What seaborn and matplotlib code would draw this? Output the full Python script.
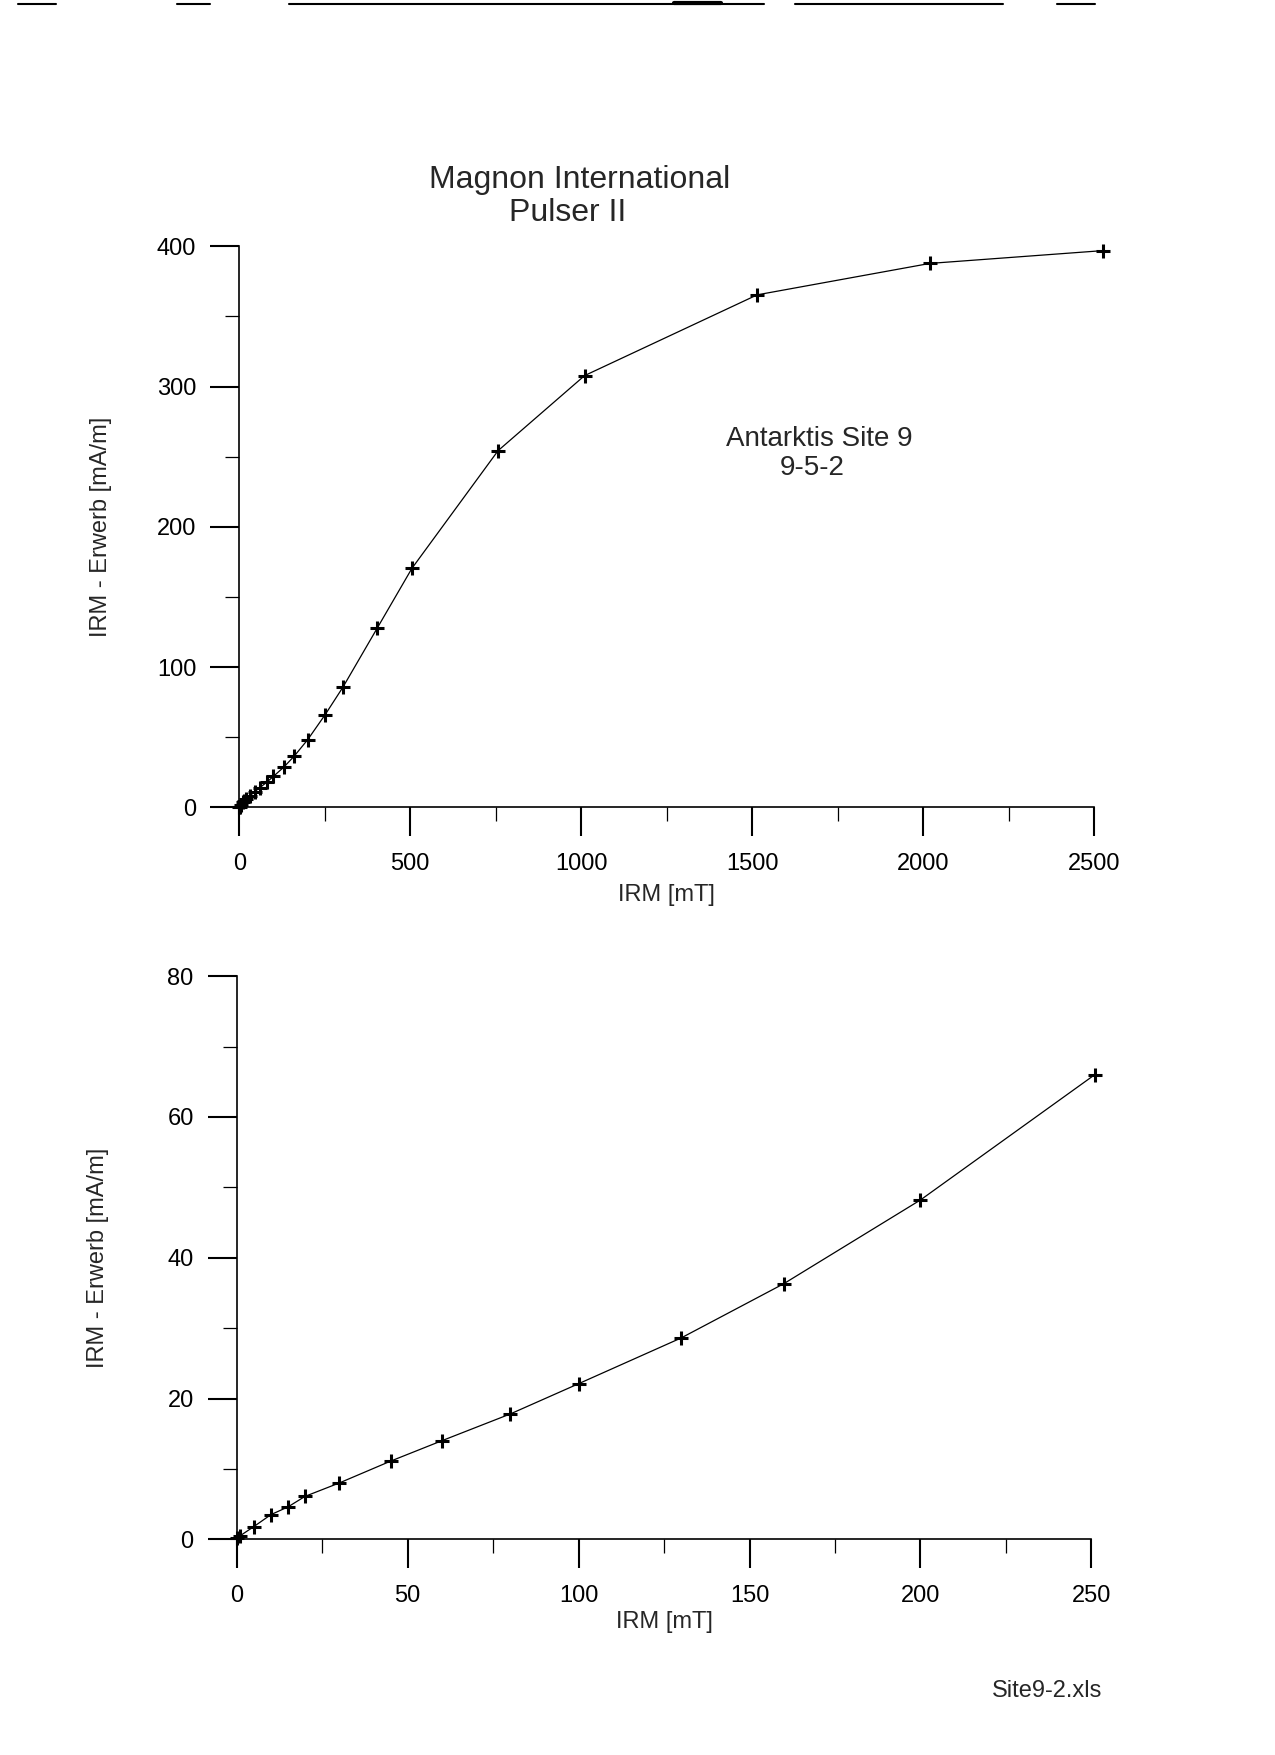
import seaborn as sns
import matplotlib.pyplot as plt
from matplotlib.ticker import MultipleLocator
from matplotlib.lines import Line2D

# IRM acquisition, Antarktis Site 9, sample 9-5-2
field_mT = [0, 1, 5, 10, 15, 20, 30, 45, 60, 80, 100, 130, 160, 200, 251,
            303, 404, 505, 757, 1010, 1515, 2020, 2525]
irm_mAm = [0.2, 0.5, 1.8, 3.5, 4.6, 6.1, 8.0, 11.1, 14.0, 17.8, 22.1, 28.6, 36.3, 48.2, 66.0,
           85.6, 128.0, 170.4, 254.3, 307.8, 365.4, 387.8, 396.9]

low_field = [f for f in field_mT if f <= 260]
low_irm = irm_mAm[:len(low_field)]

sns.set_style("ticks")
plt.rcParams['font.family'] = ['Liberation Sans', 'DejaVu Sans']

W, H = 1275, 1755


def box(x0, x1, y_top, y_bot):
    return [x0 / W, 1 - y_bot / H, (x1 - x0) / W, (y_bot - y_top) / H]


def style_axes(ax, xmax, ymax, xmaj, xmin, ymaj, ymin, xlab_y):
    ax.set_xlim(0, xmax)
    ax.set_ylim(0, ymax)
    ax.xaxis.set_major_locator(MultipleLocator(xmaj))
    ax.xaxis.set_minor_locator(MultipleLocator(xmin))
    ax.yaxis.set_major_locator(MultipleLocator(ymaj))
    ax.yaxis.set_minor_locator(MultipleLocator(ymin))
    sns.despine(ax=ax)
    for s in ("left", "bottom"):
        ax.spines[s].set_linewidth(1.2)
        ax.spines[s].set_color("black")
    ax.tick_params(which="major", length=21, width=1.5, direction="out",
                   color="black", labelsize=17, labelcolor="black")
    ax.tick_params(which="minor", length=10, width=0.9, direction="out", color="black")
    ax.tick_params(axis="x", which="major", pad=12)
    ax.tick_params(axis="y", which="major", pad=10)
    ax.set_xlabel("IRM [mT]", fontsize=17)
    ax.set_ylabel("IRM - Erwerb [mA/m]", fontsize=17)
    ax.xaxis.set_label_coords(0.5, xlab_y)
    ax.yaxis.set_label_coords(-0.149, 0.5)


fig = plt.figure(figsize=(12.75, 17.55), dpi=100)

line_kw = dict(color="black", linewidth=0.9, marker="+", markersize=10,
               markeredgewidth=2.2, markeredgecolor="black", clip_on=False)

ax1 = fig.add_axes(box(239.3, 1094, 246.3, 807.3))
sns.lineplot(x=field_mT, y=irm_mAm, ax=ax1, **line_kw)
style_axes(ax1, 2500, 400, 500, 250, 100, 50, -0.137)

ax2 = fig.add_axes(box(236.7, 1091.4, 976.1, 1539.3))
sns.lineplot(x=low_field, y=low_irm, ax=ax2, **line_kw)
style_axes(ax2, 250, 80, 50, 25, 20, 10, -0.127)

fig.text(580 / W, 1 - 188 / H, "Magnon International", ha="center", va="baseline", fontsize=23)
fig.text(568 / W, 1 - 221 / H, "Pulser II", ha="center", va="baseline", fontsize=23)
fig.text(819.7 / W, 1 - 446 / H, "Antarktis Site 9", ha="center", va="baseline", fontsize=20)
fig.text(811.7 / W, 1 - 475 / H, "9-5-2", ha="center", va="baseline", fontsize=20)
fig.text(991.7 / W, 1 - 1696.7 / H, "Site9-2.xls", ha="left", va="baseline", fontsize=17)

# scanner edge marks along the top of the page
for x0, x1, y, lw in [(18, 56, 4, 1.5), (177, 210, 4, 1.5), (289, 764, 4, 1.5),
                      (674, 721, 2.5, 3), (795, 1003, 4, 1.5), (1057, 1095, 4, 1.5)]:
    fig.add_artist(Line2D([x0 / W, x1 / W], [1 - y / H, 1 - y / H],
                          transform=fig.transFigure, color="black", linewidth=lw))

fig.savefig("out.png", dpi=100, facecolor="white")
